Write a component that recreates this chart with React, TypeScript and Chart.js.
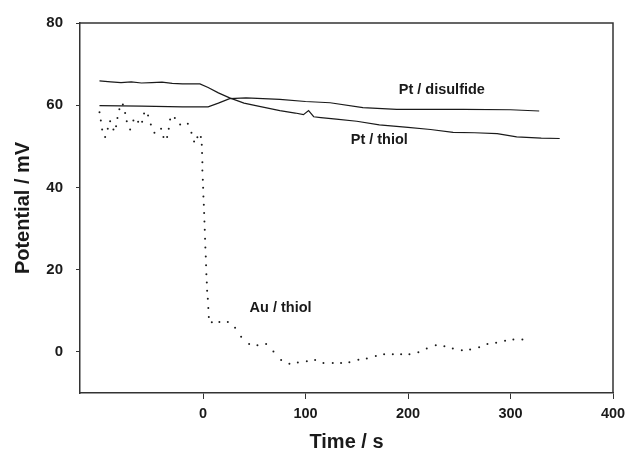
import React, { useEffect, useRef } from "react";
import { Chart, registerables } from "chart.js";

Chart.register(...registerables);

// Pt / thiol (solid line)
const thiolX = [-101, -90, -80, -70, -60, -50, -40, -30, -20, -10, -3, 5, 15, 26, 40, 55, 75, 90, 98, 103, 108, 115, 130, 150, 172, 200, 222, 244, 265, 287, 306, 330, 348];
const thiolY = [65.9, 65.7, 65.5, 65.7, 65.4, 65.5, 65.6, 65.3, 65.2, 65.2, 65.2, 64.3, 63.0, 61.8, 60.5, 59.7, 58.7, 58.1, 57.7, 58.7, 57.2, 57.0, 56.6, 56.1, 55.2, 54.6, 54.1, 53.4, 53.3, 53.1, 52.3, 52.0, 51.9];

// Pt / disulfide (solid line)
const disX = [-101, -60, -20, 5, 15, 26, 42, 75, 100, 124, 156, 189, 254, 300, 328];
const disY = [59.9, 59.8, 59.6, 59.6, 60.5, 61.6, 61.8, 61.4, 60.9, 60.6, 59.4, 59.0, 59.0, 58.9, 58.6];

// Au / thiol (dotted)
const auX = [-101, -99.7, -98.4, -95.5, -92.9, -90.6, -87.4, -84.8, -83.5, -81.6, -78.2, -76, -74.4, -71.1, -67.9, -63.3, -59.4, -57.5, -53.6, -50.9, -47.4, -40.9, -38.6, -35, -33.4, -32.1, -27.5, -22.3, -14.8, -11.3, -8.7, -5.5, -2.1,
  -1.2, -0.9, -0.6, -0.6, -0.2, 0.1, 0.4, 0.8, 1.1, 1.4, 1.7, 2.0, 2.3, 2.7, 3.0, 3.3, 3.7, 4.0, 4.7, 5.2, 5.7,
  8.6, 16, 24.2, 31.3, 37.2, 45, 53.1, 61.6, 68.7, 76.2, 84.3, 92.5, 101.3, 109.4, 117.5, 126.6, 134.7, 142.8, 151.6, 159.8, 168.6, 176.7, 185.2, 193.3, 201.4, 210.1, 218.3, 227.1, 235.5, 243.7, 252.5, 260.6, 269.4, 277.5, 286, 294.7, 302.8, 311.6];
const auY = [58.3, 56.3, 54.1, 52.3, 54.3, 56.1, 54.1, 54.9, 56.9, 59, 60.2, 58.1, 56.1, 54.1, 56.3, 56.0, 56.0, 58.0, 57.5, 55.3, 53.3, 54.3, 52.3, 52.3, 54.3, 56.5, 56.9, 55.3, 55.5, 53.3, 51.2, 52.2, 52.3,
  50.4, 48.4, 46.1, 44.1, 41.9, 39.9, 37.8, 35.8, 33.8, 31.7, 29.7, 27.5, 25.4, 23.2, 21.1, 18.9, 16.9, 14.9, 12.9, 10.7, 8.5,
  7.2, 7.3, 7.3, 5.9, 3.7, 1.9, 1.6, 1.9, 0.1, -2.0, -2.9, -2.6, -2.3, -2.0, -2.7, -2.7, -2.7, -2.5, -1.9, -1.6, -1.0, -0.6, -0.6, -0.6, -0.6, -0.1, 0.8, 1.6, 1.4, 0.8, 0.4, 0.6, 1.1, 1.9, 2.2, 2.7, 3.0, 3.0];

const xTicks = [0, 100, 200, 300, 400];
const yTicks = [0, 20, 40, 60, 80];

const labelTexts = ["Pt / disulfide", "Pt / thiol", "Au / thiol"];
const labelX = [233, 172, 75.7];
const labelY = [63.8, 51.6, 10.7];

const FONT = '"Liberation Sans", Arial, Helvetica, sans-serif';
const INK = "#1a1a1a";

const toPts = (xs: number[], ys: number[]) => xs.map((x, i) => ({ x, y: ys[i] }));

const boxAndLabels = {
  id: "boxAndLabels",
  afterDatasetsDraw(chart: any) {
    const { ctx, chartArea, scales } = chart;
    ctx.save();
    ctx.strokeStyle = "#333";
    ctx.lineWidth = 1.5;
    ctx.beginPath();
    ctx.moveTo(chartArea.left, chartArea.top);
    ctx.lineTo(chartArea.right, chartArea.top);
    ctx.lineTo(chartArea.right, chartArea.bottom);
    ctx.stroke();
    ctx.fillStyle = INK;
    ctx.font = `bold 14.5px ${FONT}`;
    ctx.textAlign = "center";
    ctx.textBaseline = "middle";
    labelTexts.forEach((t, i) => {
      ctx.fillText(t, scales.x.getPixelForValue(labelX[i]), scales.y.getPixelForValue(labelY[i]));
    });
    ctx.restore();
  },
};

export default function App() {
  const ref = useRef<HTMLCanvasElement>(null);
  useEffect(() => {
    if (!ref.current) return;
    const chart = new Chart(ref.current, {
      type: "scatter",
      data: {
        datasets: [
          {
            label: "Pt / thiol",
            data: toPts(thiolX, thiolY),
            showLine: true,
            borderColor: INK,
            borderWidth: 1.2,
            pointRadius: 0,
            tension: 0,
          },
          {
            label: "Pt / disulfide",
            data: toPts(disX, disY),
            showLine: true,
            borderColor: INK,
            borderWidth: 1.2,
            pointRadius: 0,
            tension: 0,
          },
          {
            label: "Au / thiol",
            data: toPts(auX, auY),
            showLine: false,
            backgroundColor: INK,
            borderColor: INK,
            borderWidth: 0,
            pointRadius: 1,
          },
        ],
      },
      options: {
        responsive: false,
        animation: false,
        layout: { padding: { top: 23, right: 12, left: 0, bottom: 0 } },
        plugins: { legend: { display: false }, tooltip: { enabled: false } },
        scales: {
          x: {
            type: "linear",
            min: -120,
            max: 400,
            afterBuildTicks: (s: any) => {
              s.ticks = xTicks.map((v) => ({ value: v }));
            },
            afterFit: (s: any) => {
              s.height = 57;
              s.paddingRight = 0;
              s.paddingLeft = 0;
            },
            ticks: { font: { family: FONT, size: 14.5, weight: "bold" }, color: INK, padding: 6, maxRotation: 0 },
            grid: { drawOnChartArea: false, drawTicks: true, tickLength: 6, color: "#333", lineWidth: 1 },
            border: { display: true, color: "#333", width: 1.5 },
            title: {
              display: true,
              text: "Time / s",
              color: INK,
              font: { family: FONT, size: 20, weight: "bold", lineHeight: 1 },
              padding: { top: 0, bottom: -2 },
            },
          },
          y: {
            type: "linear",
            min: -10,
            max: 80,
            afterBuildTicks: (s: any) => {
              s.ticks = yTicks.map((v) => ({ value: v }));
            },
            afterFit: (s: any) => {
              s.width = 80;
              s.paddingTop = 0;
              s.paddingBottom = 0;
            },
            ticks: { font: { family: FONT, size: 15, weight: "bold" }, color: INK, padding: 13 },
            grid: { drawOnChartArea: false, drawTicks: true, tickLength: 4, color: "#333", lineWidth: 1 },
            border: { display: true, color: "#333", width: 1.5 },
            title: {
              display: true,
              text: "Potential / mV",
              color: INK,
              font: { family: FONT, size: 20, weight: "bold", lineHeight: 1 },
              padding: { top: 13, bottom: 0 },
            },
          },
        },
      },
      plugins: [boxAndLabels],
    });
    return () => chart.destroy();
  }, []);
  return (
    <div style={{ position: "absolute", left: 0, top: 0, width: 625, height: 450, background: "#fff" }}>
      <canvas ref={ref} width={625} height={450} style={{ display: "block" }} />
    </div>
  );
}
